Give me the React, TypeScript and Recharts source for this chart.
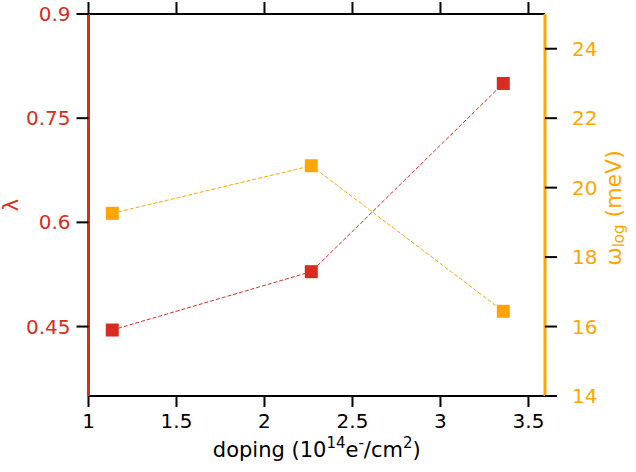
import React from 'react';
import { LineChart, Line, XAxis, YAxis } from 'recharts';

const doping = [1.135, 2.266, 3.357];
const lambdaValues = [0.445, 0.529, 0.8];
const omegaLog = [19.26, 20.63, 16.44];

const xTicks = [1, 1.5, 2, 2.5, 3, 3.5];
const leftTicks = [0.45, 0.6, 0.75, 0.9];
const rightTicks = [14, 16, 18, 20, 22, 24];

const RED = '#d82c20';
const ORANGE = '#ffa500';
const FONT = '"DejaVu Sans", Verdana, sans-serif';

const data = doping.map((d, i) => ({ doping: d, lambda: lambdaValues[i], omega: omegaLog[i] }));

const squareDot = (color: string) => (props: any) => {
  const { cx, cy, index } = props;
  if (cx == null || cy == null) return <g key={`n${index}`} />;
  return <rect key={`d${index}`} x={cx - 6.5} y={cy - 6.5} width={13} height={13} fill={color} />;
};

const XLabel = (props: any) => {
  const vb = props.viewBox || {};
  const cx = vb.x + vb.width / 2;
  const y = vb.y + 61;
  return (
    <text x={cx} y={y} textAnchor="middle" fontFamily={FONT} fontSize={21} fill="#000">
      doping (10<tspan dy={-9} fontSize={15}>14</tspan>
      <tspan dy={9}>e</tspan>
      <tspan dy={-9} fontSize={15}>-</tspan>
      <tspan dy={9}>/cm</tspan>
      <tspan dy={-9} fontSize={15}>2</tspan>
      <tspan dy={9}>)</tspan>
    </text>
  );
};

const LeftLabel = (props: any) => {
  const vb = props.viewBox || {};
  const cx = vb.x + 11;
  const cy = vb.y + vb.height / 2;
  return (
    <text x={cx} y={cy} transform={`rotate(-90, ${cx}, ${cy})`} textAnchor="middle" dominantBaseline="central" fontFamily={FONT} fontSize={21} fill={RED}>
      λ
    </text>
  );
};

const RightLabel = (props: any) => {
  const vb = props.viewBox || {};
  const cx = vb.x + 68;
  const cy = vb.y + vb.height / 2 + 3;
  return (
    <text x={cx} y={cy} transform={`rotate(-90, ${cx}, ${cy})`} textAnchor="middle" dominantBaseline="central" fontFamily={FONT} fontSize={22} fill={ORANGE}>
      ω<tspan dy={6} fontSize={15}>log</tspan>
      <tspan dy={-6}> (meV)</tspan>
    </text>
  );
};

export default function App() {
  return (
    <div style={{ position: 'absolute', left: 0, top: 0, width: 636, height: 472, background: '#fff' }}>
      <LineChart width={636} height={472} data={data} margin={{ top: 0, right: 0, bottom: 0, left: 0 }}>
        <XAxis
          xAxisId="top"
          orientation="top"
          type="number"
          dataKey="doping"
          domain={[1, 3.594]}
          ticks={xTicks}
          allowDataOverflow
          height={14}
          tickSize={12}
          tickFormatter={() => ''}
          axisLine={{ stroke: '#000', strokeWidth: 2 }}
          tickLine={{ stroke: '#000', strokeWidth: 2 }}
        />
        <XAxis
          xAxisId="bottom"
          orientation="bottom"
          type="number"
          dataKey="doping"
          domain={[1, 3.594]}
          ticks={xTicks}
          allowDataOverflow
          height={76}
          tickSize={11}
          tickMargin={7}
          tick={{ fill: '#000', fontSize: 20, fontFamily: FONT }}
          axisLine={{ stroke: '#000', strokeWidth: 2 }}
          tickLine={{ stroke: '#000', strokeWidth: 2 }}
          label={<XLabel />}
        />
        <YAxis
          yAxisId="left"
          orientation="left"
          type="number"
          domain={[0.35, 0.9]}
          ticks={leftTicks}
          allowDataOverflow
          width={88.5}
          tickSize={12}
          tickMargin={6}
          tick={{ fill: RED, fontSize: 20, fontFamily: FONT }}
          axisLine={{ stroke: RED, strokeWidth: 3 }}
          tickLine={{ stroke: '#000', strokeWidth: 2 }}
          label={<LeftLabel />}
        />
        <YAxis
          yAxisId="right"
          orientation="right"
          type="number"
          domain={[14, 25]}
          ticks={rightTicks}
          allowDataOverflow
          width={91}
          tickSize={12}
          tickMargin={15}
          tick={{ fill: ORANGE, fontSize: 20, fontFamily: FONT }}
          axisLine={{ stroke: ORANGE, strokeWidth: 3 }}
          tickLine={{ stroke: '#000', strokeWidth: 2 }}
          label={<RightLabel />}
        />
        <Line
          xAxisId="bottom"
          yAxisId="left"
          type="linear"
          dataKey="lambda"
          stroke={RED}
          strokeWidth={1}
          strokeDasharray="4 2"
          dot={squareDot(RED)}
          activeDot={false}
          isAnimationActive={false}
        />
        <Line
          xAxisId="bottom"
          yAxisId="right"
          type="linear"
          dataKey="omega"
          stroke={ORANGE}
          strokeWidth={1}
          strokeDasharray="4 2"
          dot={squareDot(ORANGE)}
          activeDot={false}
          isAnimationActive={false}
        />
      </LineChart>
    </div>
  );
}
